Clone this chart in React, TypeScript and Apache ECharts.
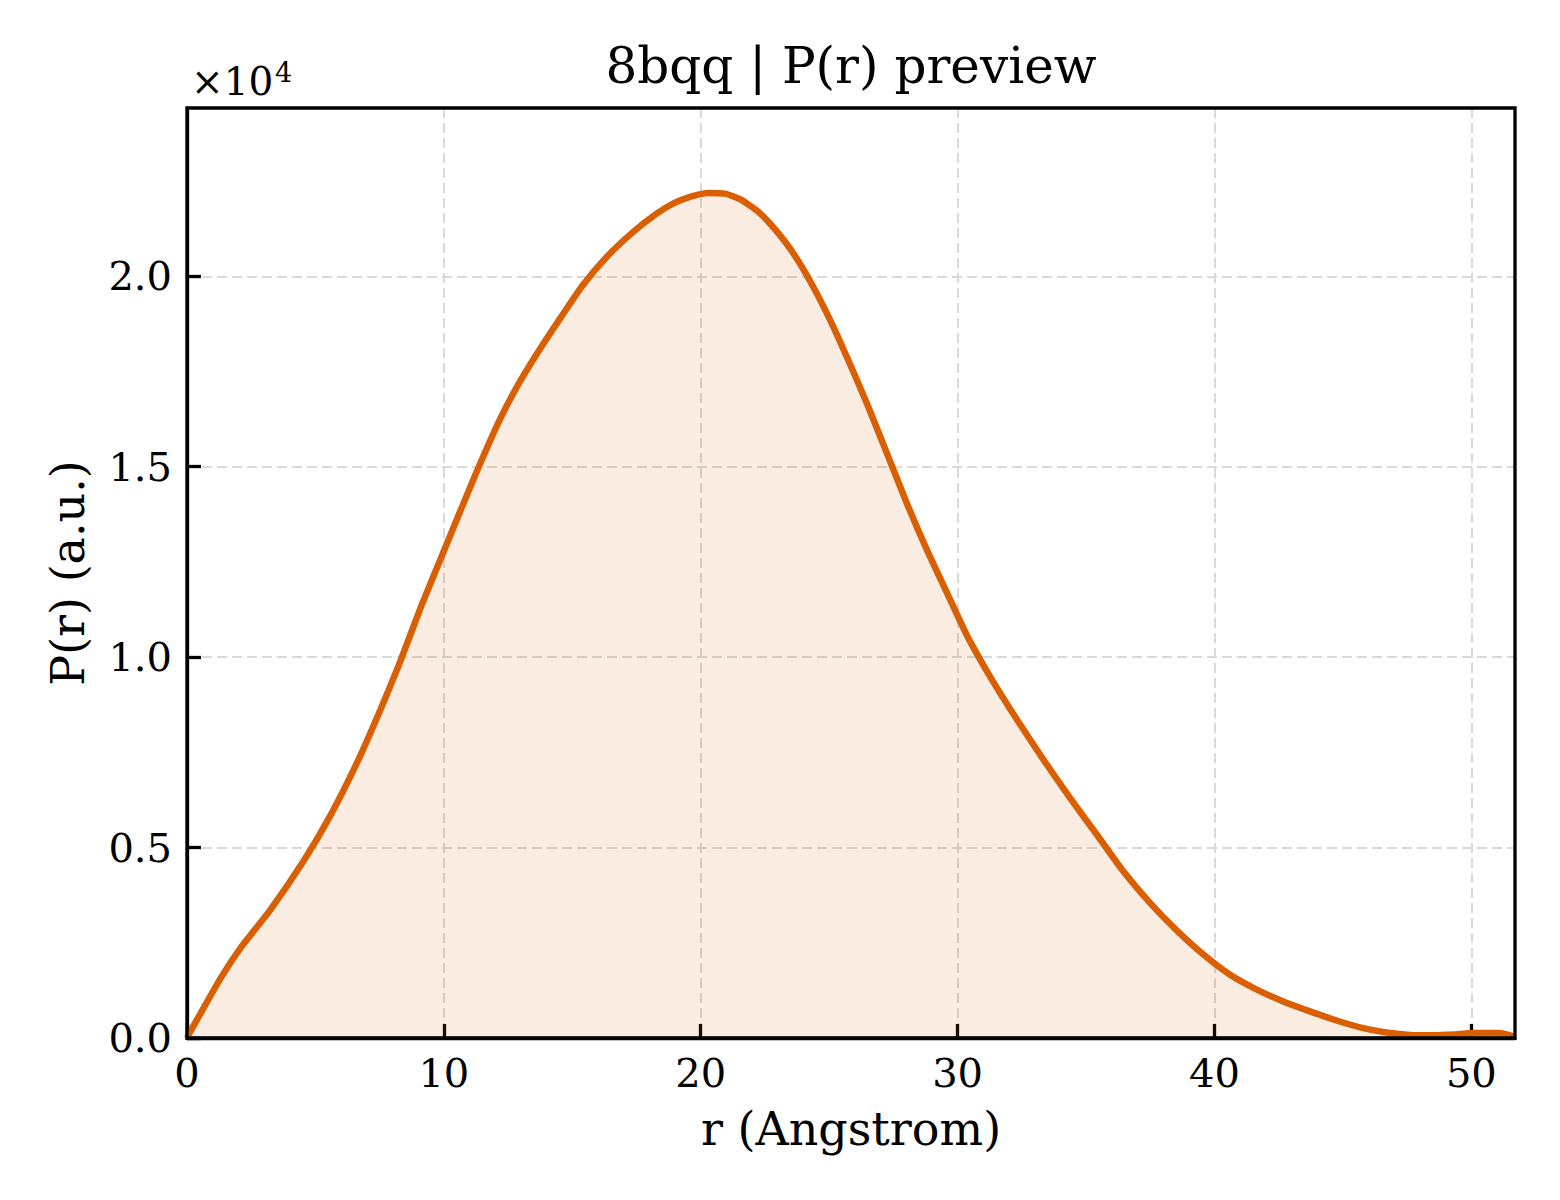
import * as echarts from 'echarts';
import { useEffect, useRef } from 'react';

// r in Angstrom, P(r) in raw units (axis shows x10^4)
const rValues = [
  0, 0.13, 1.3, 2.08, 3.25, 4.55, 5.58, 6.62, 7.53, 8.31, 9.09, 10.0, 11.17, 12.15,
  12.93, 13.71, 14.56, 15.4, 16.31, 17.36, 18.27, 18.92, 19.64, 20.33, 20.94, 21.55,
  22.3, 22.96, 23.61, 24.32, 25.04, 25.69, 26.47, 27.25, 28.03, 28.81, 29.6, 30.38,
  31.3, 32.32, 33.35, 34.39, 35.43, 36.46, 37.5, 38.54, 39.57, 40.61, 41.65, 42.68,
  43.72, 44.75, 45.79, 46.83, 47.6, 48.5, 49.3, 50.1, 51.1, 51.7,
];
const pValues = [
  0, 170, 1560, 2360, 3370, 4660, 5840, 7230, 8620, 9900, 11290, 12790, 14700, 16200,
  17200, 18060, 18930, 19760, 20490, 21160, 21640, 21910, 22100, 22190, 22170, 22020,
  21660, 21180, 20600, 19800, 18850, 17880, 16660, 15350, 14030, 12810, 11670, 10550,
  9450, 8350, 7300, 6290, 5330, 4370, 3540, 2820, 2190, 1660, 1270, 960,
  700, 460, 260, 130, 80, 70, 90, 130, 130, 30,
];

const TITLE = '8bqq | P(r) preview';
const X_NAME = 'r (Angstrom)';
const Y_NAME = 'P(r) (a.u.)';
const X_MAX = 51.7;
const Y_MAX = 24420;

const FONT = "'DejaVu Serif', 'Liberation Serif', serif";
const LINE = '#d95f02';

// plot box in px
const PLOT = { left: 187, top: 108, width: 1328, height: 930 };

export default function App() {
  const chartRef = useRef<HTMLDivElement>(null);

  useEffect(() => {
    document.body.style.margin = '0';
    if (!chartRef.current) return;
    const chart = echarts.init(chartRef.current, undefined, { renderer: 'svg' });

    chart.setOption({
      animation: false,
      backgroundColor: '#ffffff',
      textStyle: { fontFamily: FONT },
      grid: { ...PLOT, show: false },
      graphic: [
        {
          type: 'text', x: 851, y: 66,
          style: { text: TITLE, textAlign: 'center', textVerticalAlign: 'middle', font: `50px ${FONT}`, fill: '#000' },
        },
        {
          type: 'text', x: 191, y: 81,
          style: { text: '×10', textAlign: 'left', textVerticalAlign: 'middle', font: `39px ${FONT}`, fill: '#000' },
        },
        {
          type: 'text', x: 275, y: 72,
          style: { text: '4', textAlign: 'left', textVerticalAlign: 'middle', font: `27px ${FONT}`, fill: '#000' },
        },
        {
          // axes frame (spines) drawn on top of the dashed grid
          type: 'rect', z: 100,
          shape: { x: PLOT.left, y: PLOT.top, width: PLOT.width, height: PLOT.height },
          style: { fill: 'none', stroke: '#000', lineWidth: 3.3 },
          silent: true,
        },
      ],
      xAxis: {
        type: 'value',
        min: 0,
        max: X_MAX,
        interval: 10,
        name: X_NAME,
        nameLocation: 'middle',
        nameGap: 68,
        nameTextStyle: { fontFamily: FONT, fontSize: 46, color: '#000' },
        axisLine: { show: true, onZero: false, lineStyle: { color: '#000', width: 3.3 } },
        axisTick: { show: true, inside: true, length: 14, lineStyle: { color: '#000', width: 3.3 } },
        axisLabel: { showMaxLabel: false, color: '#000', fontFamily: FONT, fontSize: 40, margin: 15 },
        splitLine: { show: true, lineStyle: { color: '#d9d9d9', width: 2, type: [10, 5] } },
      },
      yAxis: {
        type: 'value',
        min: 0,
        max: Y_MAX,
        interval: 5000,
        name: Y_NAME,
        nameLocation: 'middle',
        nameGap: 96,
        nameRotate: 90,
        nameTextStyle: { fontFamily: FONT, fontSize: 46, color: '#000' },
        axisLine: { show: true, onZero: false, lineStyle: { color: '#000', width: 3.3 } },
        axisTick: { show: true, inside: true, length: 14, lineStyle: { color: '#000', width: 3.3 } },
        axisLabel: {
          showMaxLabel: false, color: '#000', fontFamily: FONT, fontSize: 40, margin: 15,
          formatter: (v: number) => (v / 10000).toFixed(1),
        },
        splitLine: { show: true, lineStyle: { color: '#d9d9d9', width: 2, type: [10, 5] } },
      },
      series: [
        {
          type: 'line',
          data: rValues.map((r, i) => [r, pValues[i]]),
          smooth: 0.2,
          showSymbol: false,
          lineStyle: { color: LINE, width: 6.5 },
          itemStyle: { color: LINE },
          areaStyle: { color: LINE, opacity: 0.12 },
          clip: true,
        },
      ],
    });

    return () => chart.dispose();
  }, []);

  return <div ref={chartRef} style={{ width: 1560, height: 1200 }} />;
}
